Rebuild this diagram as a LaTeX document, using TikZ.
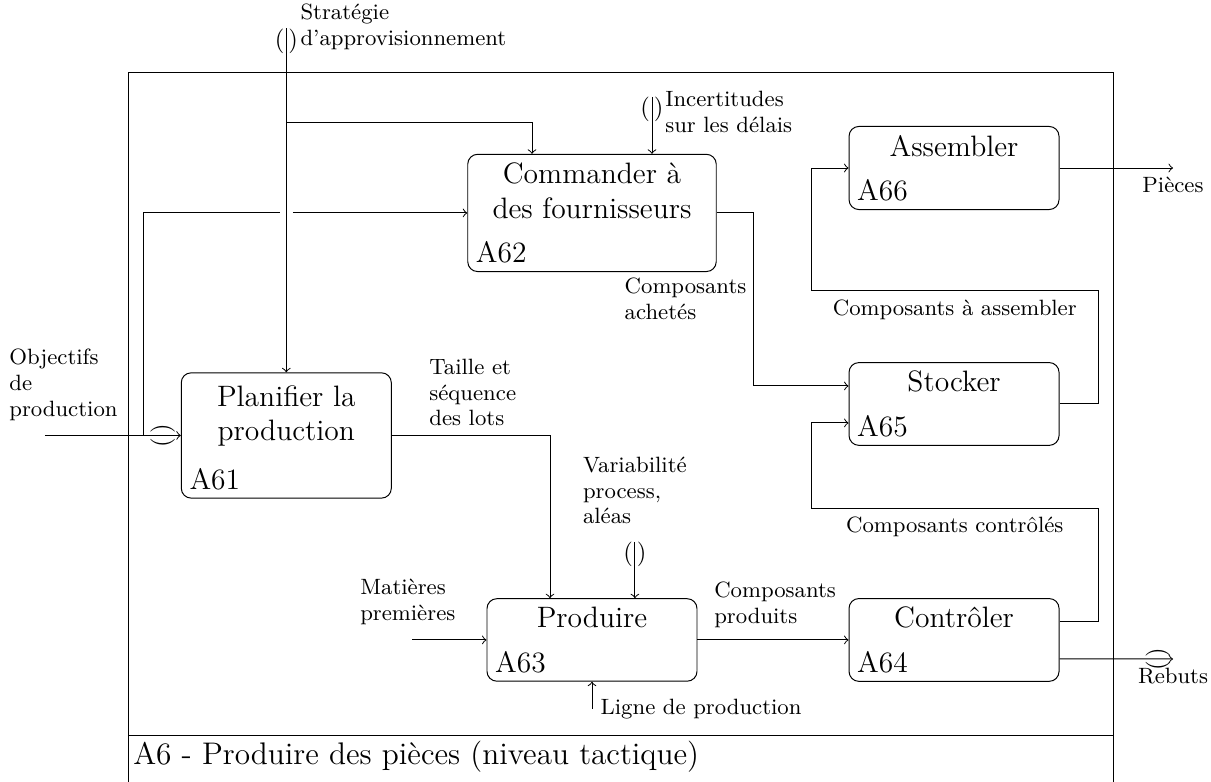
\documentclass[tikz,border=0pt]{standalone}
\usepackage{amsmath}
\usetikzlibrary{calc}

\begin{document}
\begin{tikzpicture}[
            act/.style={draw, rounded corners, font=\large, align=center, minimum width=3cm, inner ysep=3.5pt},
            num/.style={font=\large, anchor=south west},
            lbl/.style={font=\fontsize{9}{10.5}\selectfont, align=left},
            tunnel/.style={inner sep=0pt, font=\normalsize}
            ]
            \useasboundingbox (0,0) rectangle (17.3,11.171);
            % cadre
            \draw (1.83,0.66) rectangle (15.9,10.14);
            \draw (1.83,0) -- (1.83,0.66) (15.9,0) -- (15.9,0.66);
            \node[anchor=west, font=\fontsize{12.7}{15}\selectfont] (titre) at (1.78,0.357) {A6 - Produire des pièces (niveau tactique)};
            % activites
            \node[act, minimum height=1.79cm, label={[num]south west:A61}] (A61) at (4.09,4.95) {Planifier la\\production\\\strut};
            \node[act, minimum width=3.55cm, label={[num]south west:A62}] (A62) at (8.457,8.129) {Commander à\\des fournisseurs\\\strut};
            \node[act, label={[num]south west:A63}] (A63) at (8.457,2.029) {Produire\\\strut};
            \node[act, label={[num]south west:A64}] (A64) at (13.629,2.029) {Contrôler\\\strut};
            \node[act, label={[num]south west:A65}] (A65) at (13.629,5.4) {Stocker\\\strut};
            \node[act, label={[num]south west:A66}] (A66) at (13.629,8.771) {Assembler\\\strut};
            % extremites libres
            \coordinate (strat) at (4.09,10.77);
            \coordinate (stratb) at (4.09,9.414);
            \coordinate (incert) at (9.314,9.786);
            \coordinate (obj) at (0.64,4.95);
            \coordinate (objb) at (2.043,4.95);
            \coordinate (varia) at (9.07,3.43);
            \coordinate (mat) at (5.886,2.029);
            \coordinate (ligne) at (8.457,1.043);
            \coordinate (pieces) at (16.757,8.771);
            \coordinate (rebuts) at (16.757,1.757);
            % controles
            \draw[->] (strat) -- (A61.north);
            \draw[->] (stratb) -| ($(A62.north)+(-0.857,0)$);
            \draw[->] (incert) -- (incert |- A62.north);
            \draw[->] (varia) -- (varia |- A63.north);
            \draw[->] (A61.east) -| ($(A63.north)+(-0.6,0)$);
            \node[tunnel, anchor=north] (tS) at (strat) {(\kern1.6pt)};
            \node[tunnel, anchor=north] (tI) at (incert) {(\kern1.6pt)};
            \node[tunnel, anchor=north] (tV) at (varia) {(\kern1.6pt)};
            \node[lbl, anchor=west] (lS) at (4.17,10.786) {Stratégie\\d'approvisionnement};
            \node[lbl, anchor=west] (lI) at (9.38,9.571) {Incertitudes\\sur les délais};
            \node[lbl, anchor=south] (lV) at ($(varia)+(0,0.13)$) {Variabilité\\process,\\aléas};
            \node[lbl, anchor=west] (lT) at (6.01,5.564) {Taille et\\séquence\\des lots};
            % entrees
            \draw[->] (obj) -- (A61.west);
            \draw (objb) |- ($(strat |- A62.west)+(-0.095,0)$);
            \draw[->] ($(strat |- A62.west)+(0.095,0)$) -- (A62.west);
            \node[tunnel, rotate=90] (tO) at ($(A61.west)+(-0.257,0)$) {(\kern1.6pt)};
            \node[lbl, anchor=west] (lO) at (0.01,5.67) {Objectifs\\de\\production};
            \draw[->] (mat) -- (A63.west);
            \node[lbl, anchor=south] (lM) at ($(mat)+(-0.06,0.09)$) {Matières\\premières};
            % mecanisme
            \draw[->] (ligne) -- (A63.south);
            \node[lbl, anchor=west] (lL) at (ligne) {Ligne de production};
            % flux internes
            \draw[->] (A62.east) -- ++(0.528,0) |- ($(A65.west)+(0,0.257)$);
            \node[lbl, anchor=west] (lA) at (8.8,6.9) {Composants\\achetés};
            \draw[->] (A63.east) -- (A64.west);
            \node[lbl, anchor=west] (lP) at (10.08,2.53) {Composants\\produits};
            \draw[->] ($(A64.east)+(0,0.257)$) -- ++(0.557,0) |- node[lbl, below, pos=0.75] (lC) {Composants contrôlés} (11.586,3.914) |- ($(A65.west)+(0,-0.271)$);
            \draw[->] (A65.east) -- ++(0.557,0) |- node[lbl, below, pos=0.75] (lB) {Composants à assembler} (11.586,7.014) |- (A66.west);
            % sorties
            \draw[->] (A66.east) -- (pieces) node[lbl, below] (lPi) {Pièces};
            \draw[->] ($(A64.east)+(0,-0.271)$) -- (rebuts) node[lbl, below] (lR) {Rebuts};
            \node[tunnel, rotate=90] (tR) at ($(rebuts)+(-0.214,0)$) {(\kern1.6pt)};
        \end{tikzpicture}
\end{document}
